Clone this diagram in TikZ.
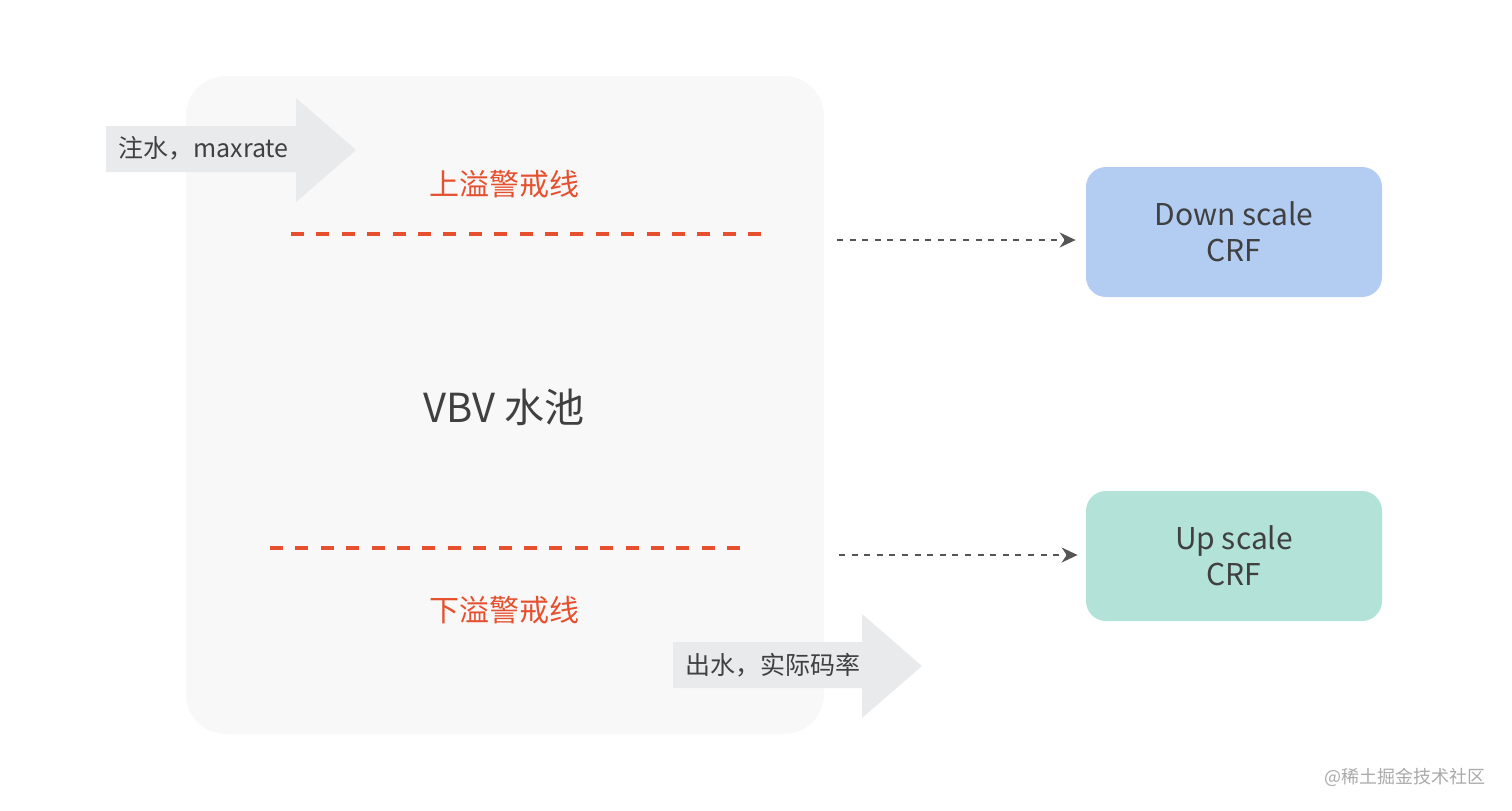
\documentclass[tikz,border=0pt]{standalone}
\usepackage{fontspec}
\setmainfont{Noto Sans CJK SC}
\usetikzlibrary{arrows.meta,calc}
\definecolor{poolfill}{HTML}{F8F8F8}
\definecolor{arrfill}{HTML}{E9EAEB}
\definecolor{warnred}{HTML}{E6502F}
\definecolor{txt}{HTML}{404040}
\definecolor{downfill}{HTML}{B3CDF2}
\definecolor{upfill}{HTML}{B3E2D8}
\definecolor{conn}{HTML}{555555}
\definecolor{wm}{HTML}{AAAAAA}
\tikzset{
  px/.style={x=0.5pt,y=-0.5pt},
  crfbox/.style={rounded corners=10pt,minimum width=148pt,minimum height=65pt,inner sep=0pt,align=center,text=txt,font=\fontsize{15pt}{18pt}\selectfont},
  warnline/.style={warnred,line width=2pt,dash pattern=on 6.5pt off 6.2pt},
  warntext/.style={text=warnred,font=\fontsize{15pt}{18pt}\selectfont,inner sep=0pt},
  arrtext/.style={text=txt,font=\fontsize{12.5pt}{15pt}\selectfont,inner sep=0pt,anchor=west},
  connector/.style={conn,line width=0.8pt,dash pattern=on 3pt off 3.3pt,-{Stealth[length=8pt,width=7.5pt]}},
  bigarrow/.style={fill=arrfill,draw=none}
}
\begin{document}
\begin{tikzpicture}[px]
\useasboundingbox (0,0) rectangle (1512,810);
\fill[white] (0,0) rectangle (1512,810);
% pool
\node[fill=poolfill,rounded corners=20pt,minimum width=319pt,minimum height=329pt,inner sep=0pt] (pool) at (505,405) {};
% input arrow
\fill[bigarrow] (106,126) -- (296,126) -- (296,98) -- (356,150) -- (296,202) -- (296,172) -- (106,172) -- cycle;
\node[arrtext] (inlabel) at (118,148) {注水，maxrate};
% output arrow
\fill[bigarrow] (673,642) -- (862,642) -- (862,614) -- (922,666) -- (862,718) -- (862,688) -- (673,688) -- cycle;
\node[arrtext] (outlabel) at (685,665) {出水，实际码率};
% warning lines
\node[warntext] (uptext) at (504,184) {上溢警戒线};
\coordinate (ua) at (291,234);
\coordinate (ub) at (770,234);
\draw[warnline] (ua) -- (ub);
\coordinate (la) at (270,548);
\coordinate (lb) at (749,548);
\draw[warnline] (la) -- (lb);
\node[warntext] (lowtext) at (504,610) {下溢警戒线};
% center label
\node[text=txt,font=\fontsize{20pt}{24pt}\selectfont,inner sep=0pt] (vbv) at (504,407) {VBV 水池};
% boxes
\node[crfbox,fill=downfill] (down) at (1234,232) {Down scale\\CRF};
\node[crfbox,fill=upfill] (up) at (1234,556) {Up scale\\CRF};
% connectors
\coordinate (c1) at (837,240);
\draw[connector] (c1) -- ($(down.west)+(-10,8)$);
\coordinate (c2) at (839,555);
\draw[connector] (c2) -- ($(up.west)+(-8,-1)$);
% watermark
\node[text=wm,font=\fontsize{9pt}{11pt}\selectfont,inner sep=0pt] (wmark) at (1405,777) {@稀土掘金技术社区};
\end{tikzpicture}
\end{document}
